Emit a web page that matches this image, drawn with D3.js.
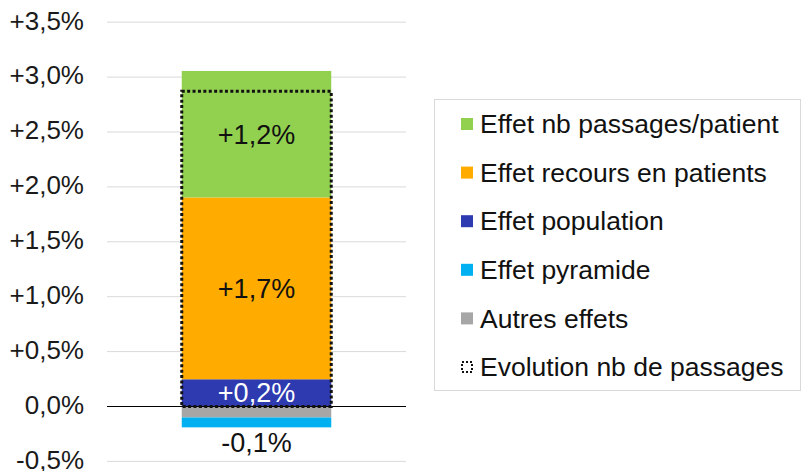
<!DOCTYPE html>
<html><head><meta charset="utf-8">
<script src="https://cdn.jsdelivr.net/npm/d3@7"></script>
<style>html,body{margin:0;padding:0;background:#fff;}svg{display:block;font-family:"Liberation Sans",Arial,sans-serif;}</style>
</head><body><svg id="c" width="802" height="471"></svg>
<script>
// ---- data ----
const seriesNames = ["Effet nb passages/patient","Effet recours en patients","Effet population","Effet pyramide","Autres effets"];
const seriesColors = ["#92d050","#ffab00","#2e3aaf","#00b0f0","#a6a6a6"];
const seriesValues = [1.152, 1.656, 0.248, -0.09, -0.10];
const stackOrderPos = [2, 1, 0];   // from zero upward: population, recours, passages/patient
const stackOrderNeg = [4, 3];      // from zero downward: autres, pyramide
const labelShown = [true, true, true, true, false];
const evolutionName = "Evolution nb de passages";
const evolutionValue = 2.87;
const yTicks = [-0.5, 0, 0.5, 1.0, 1.5, 2.0, 2.5, 3.0, 3.5];
const category = ["Total"];

// ---- chart ----
const svg = d3.select("#c");
const loc = d3.formatLocale({decimal:",", thousands:" ", grouping:[3], currency:["","€"], minus:"-"});
const f1 = loc.format("+.1f");
const fmt = v => (Math.abs(v) < 1e-9 ? "0,0" : f1(v)) + "%";

const y = d3.scaleLinear().domain([-0.5, 3.5]).range([461.4, 22.2]);
const x = d3.scaleBand().domain(category).range([107, 406]).paddingInner(0).paddingOuter(0.5);
const plotL = 107, plotR = 406;

// gridlines
svg.append("g").selectAll("line").data(yTicks.filter(t => t !== 0)).join("line")
  .attr("x1", plotL).attr("x2", plotR)
  .attr("y1", d => y(d)).attr("y2", d => y(d))
  .attr("stroke", "#d9d9d9").attr("stroke-width", 1);

// y axis labels
const yAxis = d3.axisLeft(y).tickValues(yTicks).tickFormat(fmt).tickSize(0).tickPadding(0);
const ga = svg.append("g").attr("transform", "translate(84,-1.5)").call(yAxis);
ga.select(".domain").remove();
ga.selectAll("text").attr("font-size", 26).attr("fill", "#1a1a1a").attr("font-family", '"Liberation Sans",Arial,sans-serif');

// stacked segments
const segs = [];
let acc = 0;
stackOrderPos.forEach(i => { segs.push({i, y0: acc, y1: acc + seriesValues[i]}); acc += seriesValues[i]; });
acc = 0;
stackOrderNeg.forEach(i => { segs.push({i, y0: acc, y1: acc + seriesValues[i]}); acc += seriesValues[i]; });

const bx = x("Total"), bw = x.bandwidth();
svg.append("g").selectAll("rect").data(segs).join("rect")
  .attr("x", bx).attr("width", bw)
  .attr("y", d => y(Math.max(d.y0, d.y1)))
  .attr("height", d => Math.abs(y(d.y0) - y(d.y1)))
  .attr("fill", d => seriesColors[d.i]);

// zero line
svg.append("line").attr("x1", plotL).attr("x2", plotR)
  .attr("y1", y(0)).attr("y2", y(0)).attr("stroke", "#000").attr("stroke-width", 1.2);

// evolution dotted outline
svg.append("rect")
  .attr("x", bx).attr("width", bw)
  .attr("y", y(evolutionValue)).attr("height", y(0) - y(evolutionValue))
  .attr("fill", "none").attr("stroke", "#111").attr("stroke-width", 3)
  .attr("stroke-dasharray", "3,2.4");

// data labels
svg.append("g").selectAll("text").data(segs.filter(d => labelShown[d.i])).join("text")
  .attr("x", bx + bw / 2)
  .attr("y", d => d.y1 < 0 ? y(d.y1) + 5 : y((d.y0 + d.y1) / 2))
  .attr("dy", d => d.y1 < 0 ? "0.71em" : "0.35em")
  .attr("text-anchor", "middle").attr("font-size", 27)
  .attr("fill", d => seriesColors[d.i] === "#2e3aaf" ? "#fff" : "#111")
  .text(d => fmt(seriesValues[d.i]));

// legend
const lg = svg.append("g");
lg.append("rect").attr("x", 434.5).attr("y", 99.5).attr("width", 366).attr("height", 291)
  .attr("fill", "#fff").attr("stroke", "#d9d9d9").attr("stroke-width", 1);
const legItems = seriesNames.map((n, i) => ({name: n, color: seriesColors[i], type: "sq"}))
  .concat([{name: evolutionName, type: "dot"}]);
const rowY = d3.scaleLinear().domain([0, 5]).range([124, 367]);
const li = lg.selectAll("g.it").data(legItems).join("g").attr("class", "it")
  .attr("transform", (d, i) => `translate(0,${rowY(i)})`);
li.filter(d => d.type === "sq").append("rect")
  .attr("x", 461).attr("y", -6).attr("width", 12).attr("height", 12).attr("fill", d => d.color);
li.filter(d => d.type === "dot").append("rect")
  .attr("x", 462).attr("y", -5).attr("width", 10).attr("height", 10)
  .attr("fill", "none").attr("stroke", "#111").attr("stroke-width", 2).attr("stroke-dasharray", "2,2");
li.append("text").attr("x", 480).attr("dy", "0.35em").attr("font-size", 26.5).attr("fill", "#111")
  .text(d => d.name);
</script></body></html>
